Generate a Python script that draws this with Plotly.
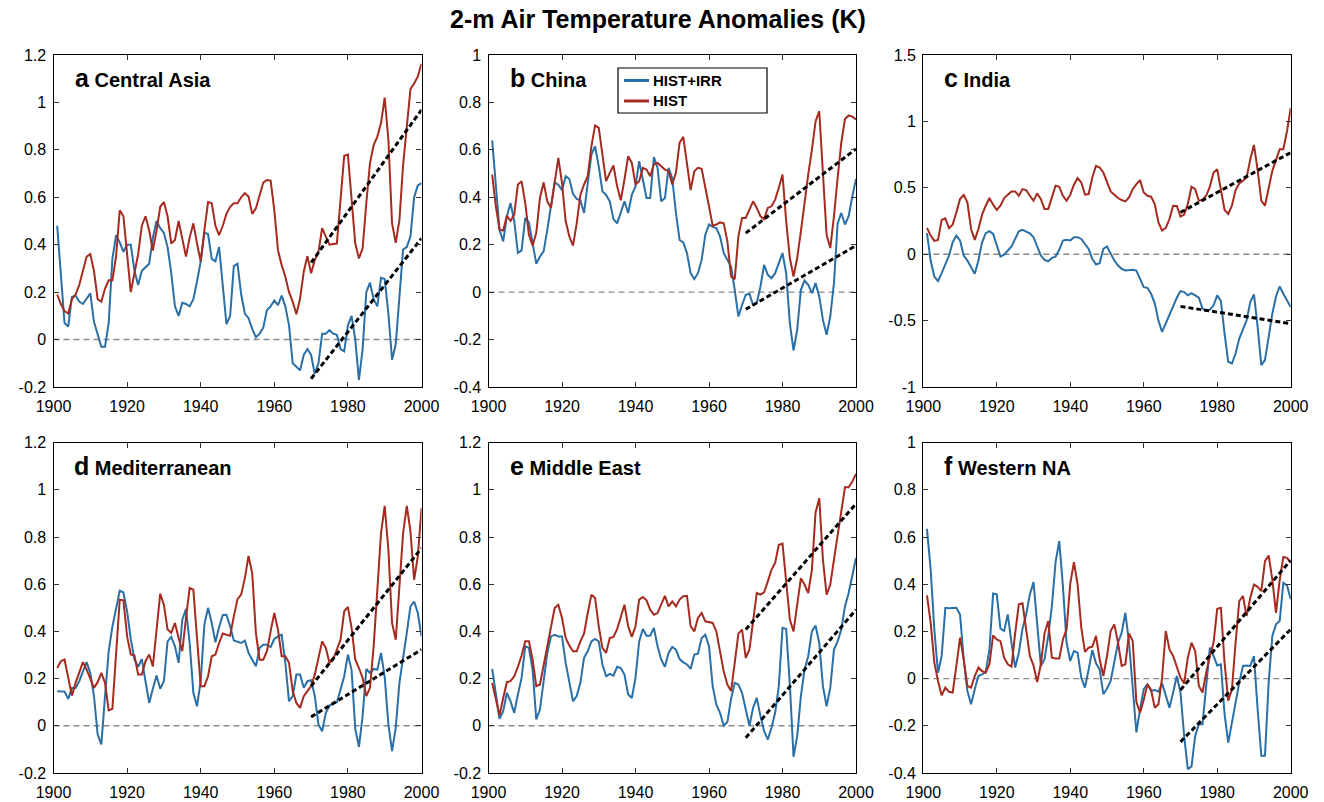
import plotly.graph_objects as go

W, H = 1324, 802
years = list(range(1901, 2001))
trend_years = [1970, 2000]
x_ticks = [1900, 1920, 1940, 1960, 1980, 2000]
x_ticktext = ["1900", "1920", "1940", "1960", "1980", "2000"]

# ---------------- data ----------------
ca_irr = [0.48, 0.27, 0.07, 0.055, 0.18, 0.185, 0.16, 0.15, 0.17, 0.195,
          0.075, 0.02, -0.03, -0.03, 0.07, 0.34, 0.44, 0.41, 0.37, 0.40,
          0.40, 0.29, 0.23, 0.29, 0.305, 0.32, 0.43, 0.50, 0.47, 0.45,
          0.39, 0.28, 0.14, 0.10, 0.155, 0.15, 0.14, 0.17, 0.245, 0.33,
          0.45, 0.445, 0.34, 0.33, 0.39, 0.22, 0.065, 0.10, 0.31, 0.32,
          0.19, 0.11, 0.09, 0.045, 0.01, 0.025, 0.05, 0.125, 0.14, 0.165,
          0.145, 0.185, 0.14, 0.06, -0.10, -0.115, -0.13, -0.065, -0.04, -0.065,
          -0.145, -0.10, 0.025, 0.025, 0.04, 0.025, 0.02, -0.04, -0.05, 0.06,
          0.10, 0.0, -0.17, -0.04, 0.20, 0.24, 0.17, 0.14, 0.26, 0.255,
          0.11, -0.085, -0.02, 0.18, 0.38, 0.39, 0.435, 0.60, 0.65, 0.66]
ca_hist = [0.19, 0.15, 0.12, 0.11, 0.17, 0.19, 0.23, 0.29, 0.35, 0.36,
           0.29, 0.17, 0.16, 0.215, 0.25, 0.25, 0.35, 0.545, 0.52, 0.36,
           0.20, 0.28, 0.36, 0.48, 0.52, 0.46, 0.375, 0.46, 0.56, 0.58,
           0.52, 0.405, 0.42, 0.50, 0.43, 0.35, 0.43, 0.49, 0.405, 0.33,
           0.46, 0.58, 0.575, 0.48, 0.44, 0.48, 0.53, 0.56, 0.575, 0.575,
           0.60, 0.617, 0.603, 0.53, 0.553, 0.603, 0.662, 0.673, 0.67, 0.546,
           0.377, 0.314, 0.265, 0.20, 0.16, 0.107, 0.173, 0.286, 0.352, 0.28,
           0.335, 0.37, 0.47, 0.434, 0.40, 0.403, 0.405, 0.59, 0.775, 0.78,
           0.60, 0.405, 0.342, 0.385, 0.575, 0.744, 0.82, 0.856, 0.913, 1.02,
           0.842, 0.49, 0.408, 0.504, 0.737, 0.90, 1.056, 1.08, 1.11, 1.163]
cn_irr = [0.64, 0.432, 0.263, 0.214, 0.32, 0.376, 0.30, 0.165, 0.176, 0.313,
          0.294, 0.207, 0.12, 0.15, 0.172, 0.263, 0.355, 0.463, 0.453, 0.43,
          0.489, 0.477, 0.415, 0.393, 0.387, 0.334, 0.46, 0.58, 0.615, 0.53,
          0.425, 0.41, 0.383, 0.308, 0.29, 0.334, 0.383, 0.334, 0.41, 0.446,
          0.552, 0.475, 0.397, 0.397, 0.57, 0.524, 0.383, 0.397, 0.524, 0.48,
          0.334, 0.22, 0.21, 0.165, 0.08, 0.055, 0.08, 0.137, 0.242, 0.285,
          0.275, 0.27, 0.235, 0.165, 0.137, 0.108, 0.01, -0.103, -0.054, -0.011,
          -0.007, -0.054, -0.046, 0.024, 0.115, 0.073, 0.059, 0.08, 0.122, 0.165,
          0.08, -0.131, -0.246, -0.159, 0.01, 0.049, 0.031, -0.004, 0.038, -0.018,
          -0.117, -0.18, -0.103, 0.038, 0.29, 0.334, 0.285, 0.32, 0.404, 0.477]
cn_hist = [0.496, 0.362, 0.263, 0.26, 0.322, 0.30, 0.327, 0.454, 0.468, 0.376,
           0.242, 0.196, 0.25, 0.397, 0.463, 0.383, 0.355, 0.454, 0.566, 0.46,
           0.30, 0.235, 0.196, 0.29, 0.41, 0.454, 0.489, 0.615, 0.703, 0.693,
           0.587, 0.468, 0.503, 0.534, 0.446, 0.387, 0.475, 0.573, 0.545, 0.454,
           0.468, 0.524, 0.517, 0.489, 0.538, 0.545, 0.531, 0.517, 0.51, 0.454,
           0.503, 0.63, 0.655, 0.531, 0.43, 0.51, 0.524, 0.52, 0.432, 0.362,
           0.28, 0.285, 0.294, 0.29, 0.214, 0.066, 0.055, 0.235, 0.313, 0.313,
           0.348, 0.383, 0.355, 0.32, 0.308, 0.355, 0.362, 0.39, 0.44, 0.496,
           0.30, 0.144, 0.066, 0.144, 0.256, 0.383, 0.496, 0.60, 0.72, 0.763,
           0.475, 0.242, 0.186, 0.32, 0.482, 0.63, 0.73, 0.745, 0.74, 0.728]
in_irr = [0.158, -0.048, -0.168, -0.203, -0.143, -0.078, -0.01, 0.09, 0.14, 0.103,
          -0.01, -0.048, -0.098, -0.148, -0.048, 0.09, 0.158, 0.173, 0.153, 0.065,
          -0.018, -0.003, 0.028, 0.058, 0.115, 0.173, 0.183, 0.173, 0.158, 0.128,
          0.058, -0.01, -0.043, -0.053, -0.028, -0.018, 0.033, 0.103, 0.108, 0.103,
          0.128, 0.128, 0.115, 0.073, 0.04, -0.035, -0.078, -0.068, 0.04, 0.058,
          0.003, -0.048, -0.085, -0.11, -0.123, -0.118, -0.118, -0.123, -0.185, -0.248,
          -0.253, -0.298, -0.37, -0.50, -0.585, -0.52, -0.45, -0.385, -0.328, -0.278,
          -0.285, -0.31, -0.293, -0.31, -0.328, -0.41, -0.428, -0.418, -0.385, -0.31,
          -0.353, -0.598, -0.81, -0.823, -0.748, -0.635, -0.573, -0.498, -0.36, -0.303,
          -0.548, -0.835, -0.798, -0.623, -0.448, -0.318, -0.243, -0.298, -0.348, -0.398]
in_hist = [0.198, 0.14, 0.10, 0.108, 0.258, 0.27, 0.195, 0.223, 0.315, 0.415,
           0.445, 0.39, 0.19, 0.108, 0.19, 0.298, 0.365, 0.423, 0.373, 0.333,
           0.365, 0.423, 0.448, 0.473, 0.473, 0.44, 0.49, 0.483, 0.44, 0.403,
           0.458, 0.415, 0.34, 0.34, 0.428, 0.515, 0.508, 0.44, 0.403, 0.448,
           0.523, 0.573, 0.54, 0.448, 0.453, 0.578, 0.665, 0.653, 0.615, 0.55,
           0.473, 0.448, 0.423, 0.408, 0.398, 0.428, 0.49, 0.528, 0.558, 0.465,
           0.44, 0.433, 0.378, 0.24, 0.178, 0.198, 0.265, 0.365, 0.363, 0.283,
           0.298, 0.378, 0.508, 0.49, 0.403, 0.408, 0.44, 0.508, 0.615, 0.64,
           0.478, 0.333, 0.303, 0.365, 0.483, 0.533, 0.553, 0.578, 0.715, 0.823,
           0.633, 0.403, 0.365, 0.503, 0.628, 0.708, 0.79, 0.79, 0.928, 1.10]
med_irr = [0.147, 0.147, 0.145, 0.114, 0.16, 0.16, 0.189, 0.231, 0.27, 0.224,
           0.126, -0.037, -0.079, 0.126, 0.316, 0.42, 0.49, 0.573, 0.565, 0.485,
           0.368, 0.28, 0.25, 0.283, 0.189, 0.097, 0.157, 0.213, 0.157, 0.189,
           0.358, 0.377, 0.337, 0.267, 0.45, 0.495, 0.351, 0.14, 0.083, 0.189,
           0.429, 0.50, 0.436, 0.354, 0.419, 0.47, 0.471, 0.422, 0.362, 0.356,
           0.351, 0.361, 0.309, 0.28, 0.252, 0.33, 0.344, 0.344, 0.334, 0.368,
           0.379, 0.386, 0.267, 0.104, 0.126, 0.217, 0.217, 0.161, 0.189, 0.193,
           0.126, 0.006, -0.023, 0.055, 0.086, 0.094, 0.10, 0.154, 0.21, 0.302,
           0.236, -0.013, -0.089, 0.041, 0.241, 0.224, 0.241, 0.238, 0.309, 0.207,
           0.006, -0.107, -0.008, 0.182, 0.28, 0.394, 0.506, 0.527, 0.478, 0.379]
med_hist = [0.245, 0.274, 0.281, 0.203, 0.128, 0.182, 0.231, 0.27, 0.238, 0.203,
            0.161, 0.185, 0.224, 0.182, 0.066, 0.072, 0.316, 0.535, 0.532, 0.379,
            0.302, 0.298, 0.217, 0.217, 0.274, 0.302, 0.252, 0.408, 0.56, 0.513,
            0.408, 0.394, 0.436, 0.372, 0.316, 0.457, 0.584, 0.577, 0.379, 0.168,
            0.168, 0.21, 0.295, 0.302, 0.351, 0.391, 0.386, 0.382, 0.464, 0.537,
            0.556, 0.626, 0.72, 0.647, 0.393, 0.28, 0.28, 0.316, 0.40, 0.478,
            0.408, 0.295, 0.295, 0.267, 0.147, 0.097, 0.076, 0.126, 0.147, 0.168,
            0.217, 0.295, 0.358, 0.33, 0.267, 0.281, 0.323, 0.365, 0.485, 0.504,
            0.415, 0.281, 0.245, 0.203, 0.126, 0.161, 0.337, 0.591, 0.817, 0.932,
            0.746, 0.436, 0.365, 0.591, 0.817, 0.932, 0.824, 0.619, 0.718, 0.922]
me_irr = [0.241, 0.14, 0.03, 0.062, 0.14, 0.104, 0.055, 0.133, 0.203, 0.337,
          0.33, 0.238, 0.027, 0.069, 0.182, 0.309, 0.379, 0.386, 0.379, 0.379,
          0.267, 0.182, 0.104, 0.126, 0.182, 0.288, 0.316, 0.358, 0.368, 0.358,
          0.26, 0.21, 0.22, 0.213, 0.25, 0.245, 0.217, 0.133, 0.118, 0.203,
          0.358, 0.41, 0.382, 0.382, 0.415, 0.337, 0.281, 0.25, 0.309, 0.334,
          0.323, 0.283, 0.269, 0.26, 0.241, 0.302, 0.306, 0.372, 0.386, 0.337,
          0.168, 0.09, 0.055, 0.0, 0.016, 0.114, 0.182, 0.175, 0.14, 0.069,
          0.0, 0.076, 0.118, 0.041, -0.023, -0.058, -0.008, 0.055, 0.168, 0.415,
          0.41, 0.175, -0.131, -0.044, 0.126, 0.238, 0.295, 0.40, 0.425, 0.351,
          0.168, 0.083, 0.161, 0.323, 0.358, 0.408, 0.506, 0.563, 0.633, 0.711]
me_hist = [0.182, 0.111, 0.044, 0.118, 0.185, 0.189, 0.21, 0.25, 0.298, 0.358,
           0.358, 0.281, 0.168, 0.175, 0.26, 0.337, 0.415, 0.499, 0.513, 0.457,
           0.372, 0.34, 0.316, 0.316, 0.358, 0.391, 0.478, 0.556, 0.542, 0.422,
           0.33, 0.309, 0.372, 0.377, 0.41, 0.457, 0.513, 0.422, 0.377, 0.422,
           0.535, 0.546, 0.532, 0.492, 0.471, 0.478, 0.513, 0.551, 0.506, 0.527,
           0.506, 0.535, 0.549, 0.551, 0.422, 0.40, 0.457, 0.478, 0.443, 0.439,
           0.436, 0.40, 0.323, 0.231, 0.175, 0.147, 0.267, 0.391, 0.408, 0.288,
           0.323, 0.436, 0.563, 0.556, 0.566, 0.612, 0.661, 0.69, 0.767, 0.772,
           0.605, 0.45, 0.40, 0.506, 0.626, 0.598, 0.563, 0.661, 0.904, 0.965,
           0.704, 0.556, 0.598, 0.704, 0.803, 0.915, 1.011, 1.011, 1.035, 1.068]
wna_irr = [0.635, 0.463, 0.209, 0.025, 0.096, 0.30, 0.298, 0.298, 0.30, 0.272,
           0.082, -0.052, -0.109, -0.045, 0.011, 0.018, 0.028, 0.124, 0.361, 0.357,
           0.212, 0.202, 0.272, 0.152, 0.047, 0.11, 0.212, 0.272, 0.357, 0.409,
           0.24, 0.054, 0.082, 0.181, 0.307, 0.494, 0.583, 0.392, 0.152, 0.075,
           0.117, 0.11, 0.004, -0.038, 0.039, 0.121, 0.065, 0.039, -0.066, -0.042,
           -0.01, 0.068, 0.152, 0.195, 0.279, 0.152, -0.059, -0.228, -0.13, -0.045,
           -0.024, -0.052, -0.048, -0.055, -0.02, -0.073, -0.123, -0.059, 0.011, -0.059,
           -0.243, -0.384, -0.372, -0.243, -0.193, -0.193, -0.017, 0.131, 0.096, 0.056,
           0.061, -0.151, -0.271, -0.186, -0.094, -0.017, 0.054, 0.056, 0.054, 0.096,
           -0.13, -0.327, -0.327, -0.017, 0.181, 0.23, 0.244, 0.406, 0.395, 0.336]
wna_hist = [0.353, 0.237, 0.068, -0.01, -0.071, -0.038, -0.056, -0.059, 0.054, 0.174,
            0.082, -0.031, -0.038, 0.011, 0.047, 0.032, 0.025, 0.061, 0.183, 0.166,
            0.159, 0.089, 0.061, 0.051, 0.192, 0.315, 0.319, 0.195, 0.096, 0.056,
            -0.014, 0.061, 0.192, 0.244, 0.089, 0.085, 0.085, 0.166, 0.209, 0.403,
            0.494, 0.399, 0.216, 0.113, 0.131, 0.135, 0.181, 0.082, 0.011, 0.095,
            0.202, 0.23, 0.152, 0.054, 0.061, 0.192, 0.159, -0.099, -0.144, -0.09,
            -0.024, -0.048, -0.123, -0.109, 0.004, 0.202, 0.124, 0.096, 0.051, 0.004,
            -0.02, 0.089, 0.152, 0.117, -0.031, -0.059, 0.025, 0.096, 0.152, 0.296,
            0.30, 0.068, -0.094, -0.045, 0.152, 0.329, 0.35, 0.265, 0.343, 0.399,
            0.389, 0.371, 0.498, 0.522, 0.42, 0.279, 0.417, 0.516, 0.512, 0.491]

# 1970-2000 trend line end values
ca_trend_irr, ca_trend_hist = [-0.165, 0.427], [0.324, 0.969]
cn_trend_irr, cn_trend_hist = [-0.072, 0.196], [0.249, 0.604]
in_trend_irr, in_trend_hist = [-0.393, -0.523], [0.315, 0.765]
med_trend_irr, med_trend_hist = [0.038, 0.323], [0.168, 0.753]
me_trend_irr, me_trend_hist = [-0.051, 0.492], [0.408, 0.941]
wna_trend_irr, wna_trend_hist = [-0.268, 0.209], [-0.048, 0.502]

letters = ["a", "b", "c", "d", "e", "f"]
regions = ["Central Asia", "China", "India", "Mediterranean", "Middle East", "Western NA"]
series_names = ["HIST+IRR", "HIST"]

yt_a = [-0.2, 0, 0.2, 0.4, 0.6, 0.8, 1.0, 1.2]
yt_a_text = ["-0.2", "0", "0.2", "0.4", "0.6", "0.8", "1", "1.2"]
yt_b = [-0.4, -0.2, 0, 0.2, 0.4, 0.6, 0.8, 1.0]
yt_b_text = ["-0.4", "-0.2", "0", "0.2", "0.4", "0.6", "0.8", "1"]
yt_c = [-1, -0.5, 0, 0.5, 1, 1.5]
yt_c_text = ["-1", "-0.5", "0", "0.5", "1", "1.5"]

irr_series = [ca_irr, cn_irr, in_irr, med_irr, me_irr, wna_irr]
hist_series = [ca_hist, cn_hist, in_hist, med_hist, me_hist, wna_hist]
trend_irr = [ca_trend_irr, cn_trend_irr, in_trend_irr, med_trend_irr, me_trend_irr, wna_trend_irr]
trend_hist = [ca_trend_hist, cn_trend_hist, in_trend_hist, med_trend_hist, me_trend_hist, wna_trend_hist]
yranges = [[-0.2, 1.2], [-0.4, 1.0], [-1, 1.5], [-0.2, 1.2], [-0.2, 1.2], [-0.4, 1.0]]
yticks = [(yt_a, yt_a_text), (yt_b, yt_b_text), (yt_c, yt_c_text),
          (yt_a, yt_a_text), (yt_a, yt_a_text), (yt_b, yt_b_text)]

# ---------------- layout (pixels) ----------------
ML, MR, MT, MB = 24, 24, 4, 4          # explicit margins
PW, PH = W - ML - MR, H - MT - MB       # plot-area size


def px_x(px):
    return (px - ML) / PW


def px_y(py):
    return 1 - (py - MT) / PH


col_px = [(53.5, 421.5), (488.5, 856.0), (923.3, 1290.7)]
row_px = [(55.0, 387.0), (442.7, 773.0)]
label_x = [73, 508, 942, 72, 508, 942]
label_y = [78, 78, 78, 466, 466, 466]

BLUE = "#2a6fa6"
RED = "#a52a1f"
colors = [BLUE, RED]
FONT = "Liberation Sans, Arial, Helvetica, sans-serif"

fig = go.Figure()
layout = dict(
    width=W, height=H, margin=dict(l=ML, r=MR, t=MT, b=MB, autoexpand=False),
    paper_bgcolor="white", plot_bgcolor="white",
    font=dict(family=FONT, size=16, color="black"),
    showlegend=False,
)
annotations = []
shapes = []

for i in range(6):
    r, c = divmod(i, 3)
    n = "" if i == 0 else str(i + 1)
    xa, ya = "x" + n, "y" + n
    x0, x1 = col_px[c]
    y0, y1 = row_px[r]
    axis_common = dict(showline=True, linecolor="black", linewidth=1.3, mirror="ticks",
                       ticks="inside", ticklen=5, tickwidth=1, tickcolor="#333",
                       showgrid=False, zeroline=False, automargin=False,
                       tickfont=dict(family=FONT, size=16, color="black"))
    layout["xaxis" + n] = dict(domain=[px_x(x0), px_x(x1)], anchor=ya, range=[1900, 2000],
                               tickvals=x_ticks, ticktext=x_ticktext, ticklabelstandoff=5,
                               **axis_common)
    layout["yaxis" + n] = dict(domain=[px_y(y1), px_y(y0)], anchor=xa, range=yranges[i],
                               tickvals=yticks[i][0], ticktext=yticks[i][1], ticklabelstandoff=3,
                               **axis_common)

    fig.add_trace(go.Scatter(x=[1900, 2000], y=[0, 0], xaxis=xa, yaxis=ya, mode="lines",
                             line=dict(color="#8a8a8a", width=1.4, dash="6px,4px"),
                             showlegend=False, hoverinfo="skip"))
    fig.add_trace(go.Scatter(x=years, y=irr_series[i], xaxis=xa, yaxis=ya, mode="lines",
                             line=dict(color=BLUE, width=2), name=series_names[0]))
    fig.add_trace(go.Scatter(x=years, y=hist_series[i], xaxis=xa, yaxis=ya, mode="lines",
                             line=dict(color=RED, width=2), name=series_names[1]))
    for tr in (trend_hist[i], trend_irr[i]):
        fig.add_trace(go.Scatter(x=trend_years, y=tr, xaxis=xa, yaxis=ya, mode="lines",
                                 line=dict(color="black", width=3, dash="5px,3px"),
                                 showlegend=False, hoverinfo="skip"))

    annotations.append(dict(
        xref="paper", yref="paper", x=px_x(label_x[i]), y=px_y(label_y[i]),
        xanchor="left", yanchor="middle", showarrow=False,
        text="<b><span style='font-size:25px'>%s</span> %s</b>" % (letters[i], regions[i]),
        font=dict(family=FONT, size=20, color="black")))

# legend box inside panel b (drawn as a boxed key)
leg_box = (618, 68, 767, 113)
leg_rows = [80.5, 101.0]
shapes.append(dict(type="rect", xref="paper", yref="paper",
                   x0=px_x(leg_box[0]), x1=px_x(leg_box[2]),
                   y0=px_y(leg_box[3]), y1=px_y(leg_box[1]),
                   line=dict(color="black", width=1.2), fillcolor="white", layer="above"))
for k in range(2):
    shapes.append(dict(type="line", xref="paper", yref="paper",
                       x0=px_x(624), x1=px_x(649), y0=px_y(leg_rows[k]), y1=px_y(leg_rows[k]),
                       line=dict(color=colors[k], width=3), layer="above"))
    annotations.append(dict(
        xref="paper", yref="paper", x=px_x(651), y=px_y(leg_rows[k]),
        xanchor="left", yanchor="middle", showarrow=False,
        text="<b>%s</b>" % series_names[k], font=dict(family=FONT, size=15, color="black")))

annotations.append(dict(
    xref="paper", yref="paper", x=px_x(658), y=px_y(19), xanchor="center", yanchor="middle",
    showarrow=False, text="<b>2-m Air Temperature Anomalies (K)</b>",
    font=dict(family=FONT, size=25, color="black")))

layout["annotations"] = annotations
layout["shapes"] = shapes
fig.update_layout(**layout)
fig.write_html("out.html")
